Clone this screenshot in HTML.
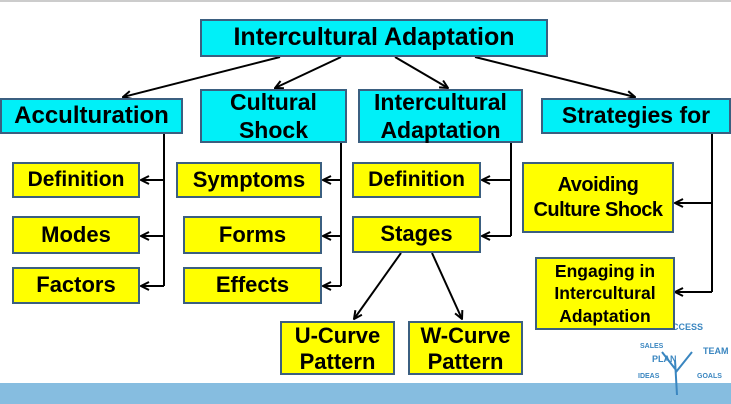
<!DOCTYPE html>
<html><head><style>
body{margin:0;width:731px;height:404px;background:#fff;position:relative;overflow:hidden;font-family:"Liberation Sans",sans-serif;font-weight:bold}
.b{position:absolute;box-sizing:border-box;border:2px solid #3b5f80;display:flex;align-items:center;justify-content:center;text-align:center;color:#000;line-height:1.1;white-space:nowrap}
.c{background:#00f0f8;font-size:23px}
.y{background:#ffff00;font-size:22px}
.t{line-height:1.2;padding-top:2px}
svg{position:absolute;left:0;top:0}
</style></head><body>
<div style="position:absolute;left:0;top:0;width:731px;height:2px;background:#ccc"></div>
<div style="position:absolute;left:0;top:383px;width:731px;height:21px;background:#86bde0"></div>
<svg width="731" height="404">
<defs><marker id="a" markerWidth="10" markerHeight="10" refX="9" refY="5" orient="auto" markerUnits="userSpaceOnUse"><path d="M1,1 L9,5 L1,9" fill="none" stroke="#000" stroke-width="2"/></marker></defs>
<g stroke="#000" stroke-width="2" fill="none">
<line x1="280" y1="57" x2="123" y2="97" marker-end="url(#a)"/>
<line x1="341" y1="57" x2="275" y2="88" marker-end="url(#a)"/>
<line x1="395" y1="57" x2="448" y2="88" marker-end="url(#a)"/>
<line x1="475" y1="57" x2="635" y2="97" marker-end="url(#a)"/>
<polyline points="164,134 164,286"/>
<line x1="164" y1="180" x2="141" y2="180" marker-end="url(#a)"/>
<line x1="164" y1="236" x2="141" y2="236" marker-end="url(#a)"/>
<line x1="164" y1="286" x2="141" y2="286" marker-end="url(#a)"/>
<polyline points="341,143 341,286"/>
<line x1="341" y1="180" x2="323" y2="180" marker-end="url(#a)"/>
<line x1="341" y1="236" x2="323" y2="236" marker-end="url(#a)"/>
<line x1="341" y1="286" x2="323" y2="286" marker-end="url(#a)"/>
<polyline points="511,143 511,236"/>
<line x1="511" y1="180" x2="482" y2="180" marker-end="url(#a)"/>
<line x1="511" y1="236" x2="482" y2="236" marker-end="url(#a)"/>
<polyline points="712,134 712,292"/>
<line x1="712" y1="203" x2="675" y2="203" marker-end="url(#a)"/>
<line x1="712" y1="292" x2="675" y2="292" marker-end="url(#a)"/>
<line x1="401" y1="253" x2="354" y2="319" marker-end="url(#a)"/>
<line x1="432" y1="253" x2="462" y2="319" marker-end="url(#a)"/>
</g>
<g font-family="Liberation Sans,sans-serif" font-weight="bold" fill="#3a86c0">
<text x="672" y="330" font-size="9">CCESS</text>
<text x="640" y="348" font-size="7">SALES</text>
<text x="703" y="354" font-size="9">TEAM</text>
<text x="652" y="362" font-size="9">PLAN</text>
<text x="638" y="378" font-size="7">IDEAS</text>
<text x="697" y="378" font-size="7">GOALS</text>
</g>
<path d="M677,395 L675,360 M676,370 L662,352 M676,372 L692,352" stroke="#3a86c0" stroke-width="2" fill="none"/>
</svg>
<div class="b c" style="left:200px;top:19px;width:348px;height:38px;font-size:25px">Intercultural Adaptation</div>
<div class="b c" style="left:0;top:98px;width:183px;height:36px;font-size:24px">Acculturation</div>
<div class="b c t" style="left:200px;top:89px;width:147px;height:54px">Cultural<br>Shock</div>
<div class="b c t" style="left:358px;top:89px;width:165px;height:54px">Intercultural<br>Adaptation</div>
<div class="b c" style="left:541px;top:98px;width:190px;height:36px">Strategies for</div>
<div class="b y" style="left:12px;top:162px;width:128px;height:36px;font-size:21px">Definition</div>
<div class="b y" style="left:176px;top:162px;width:146px;height:36px">Symptoms</div>
<div class="b y" style="left:352px;top:162px;width:129px;height:36px;font-size:21px">Definition</div>
<div class="b y" style="left:522px;top:162px;width:152px;height:71px;font-size:20px;line-height:1.25;letter-spacing:-0.5px">Avoiding<br>Culture Shock</div>
<div class="b y" style="left:12px;top:216px;width:128px;height:38px">Modes</div>
<div class="b y" style="left:183px;top:216px;width:139px;height:38px">Forms</div>
<div class="b y" style="left:352px;top:216px;width:129px;height:37px">Stages</div>
<div class="b y" style="left:12px;top:267px;width:128px;height:37px">Factors</div>
<div class="b y" style="left:183px;top:267px;width:139px;height:37px">Effects</div>
<div class="b y" style="left:535px;top:257px;width:140px;height:73px;font-size:17.5px;line-height:1.28">Engaging in<br>Intercultural<br>Adaptation</div>
<div class="b y t" style="left:280px;top:321px;width:115px;height:54px">U-Curve<br>Pattern</div>
<div class="b y t" style="left:408px;top:321px;width:115px;height:54px">W-Curve<br>Pattern</div>
</body></html>
